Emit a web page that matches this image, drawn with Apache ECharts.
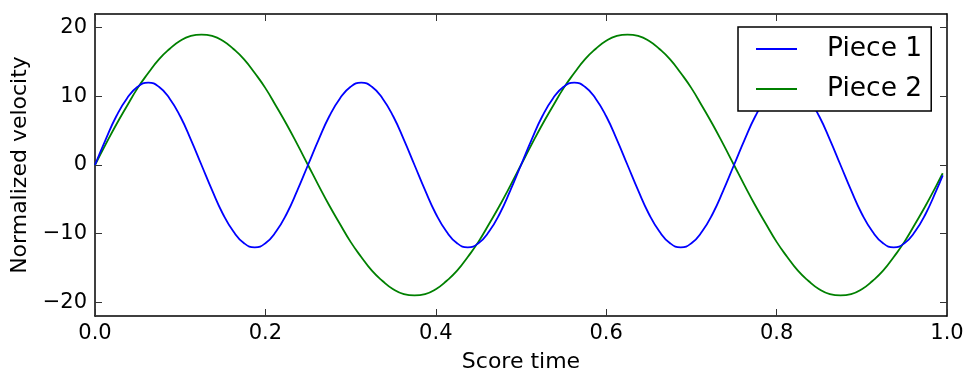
<!DOCTYPE html>
<html>
<head>
<meta charset="utf-8">
<script src="https://cdn.jsdelivr.net/npm/echarts@6/dist/echarts.min.js"></script>
<style>
html,body{margin:0;padding:0;background:#fff;}
#chart{width:969px;height:378px;}
</style>
</head>
<body>
<div id="chart"></div>
<script>
var times = [0, 0.0125, 0.025, 0.0375, 0.05, 0.0625, 0.075, 0.0875, 0.1, 0.1125,
  0.125, 0.1375, 0.15, 0.1625, 0.175, 0.1875, 0.2, 0.2125, 0.225, 0.2375,
  0.25, 0.2625, 0.275, 0.2875, 0.3, 0.3125, 0.325, 0.3375, 0.35, 0.3625,
  0.375, 0.3875, 0.4, 0.4125, 0.425, 0.4375, 0.45, 0.4625, 0.475, 0.4875,
  0.5, 0.5125, 0.525, 0.5375, 0.55, 0.5625, 0.575, 0.5875, 0.6, 0.6125,
  0.625, 0.6375, 0.65, 0.6625, 0.675, 0.6875, 0.7, 0.7125, 0.725, 0.7375,
  0.75, 0.7625, 0.775, 0.7875, 0.8, 0.8125, 0.825, 0.8375, 0.85, 0.8625,
  0.875, 0.8875, 0.9, 0.9125, 0.925, 0.9375, 0.95, 0.9625, 0.975, 0.9875,
  0.995];

var piece1 = [0, 3.7, 7.1, 9.7, 11.4, 12, 11.4, 9.7, 7.1, 3.7,
  0, -3.7, -7.1, -9.7, -11.4, -12, -11.4, -9.7, -7.1, -3.7,
  0, 3.7, 7.1, 9.7, 11.4, 12, 11.4, 9.7, 7.1, 3.7,
  0, -3.7, -7.1, -9.7, -11.4, -12, -11.4, -9.7, -7.1, -3.7,
  0, 3.7, 7.1, 9.7, 11.4, 12, 11.4, 9.7, 7.1, 3.7,
  0, -3.7, -7.1, -9.7, -11.4, -12, -11.4, -9.7, -7.1, -3.7,
  0, 3.7, 7.1, 9.7, 11.4, 12, 11.4, 9.7, 7.1, 3.7,
  0, -3.7, -7.1, -9.7, -11.4, -12, -11.4, -9.7, -7.1, -3.7,
  -1.5];

var piece2 = [0, 3.0, 5.9, 8.6, 11.2, 13.4, 15.4, 16.9, 18.1, 18.8,
  19, 18.8, 18.1, 16.9, 15.4, 13.4, 11.2, 8.6, 5.9, 3.0,
  0, -3.0, -5.9, -8.6, -11.2, -13.4, -15.4, -16.9, -18.1, -18.8,
  -19, -18.8, -18.1, -16.9, -15.4, -13.4, -11.2, -8.6, -5.9, -3.0,
  0, 3.0, 5.9, 8.6, 11.2, 13.4, 15.4, 16.9, 18.1, 18.8,
  19, 18.8, 18.1, 16.9, 15.4, 13.4, 11.2, 8.6, 5.9, 3.0,
  0, -3.0, -5.9, -8.6, -11.2, -13.4, -15.4, -16.9, -18.1, -18.8,
  -19, -18.8, -18.1, -16.9, -15.4, -13.4, -11.2, -8.6, -5.9, -3.0,
  -1.2];

var seriesNames = ['Piece 1', 'Piece 2'];
var xTicks = [0, 0.2, 0.4, 0.6, 0.8, 1.0];
var yTicks = [-20, -10, 0, 10, 20];

function pairs(xs, ys) { return xs.map(function (x, i) { return [x, ys[i]]; }); }

var FONT = 'DejaVu Sans';
var chart = echarts.init(document.getElementById('chart'), null, {renderer: 'canvas'});

function xAxisDef(pos, show) {
  return {
    type: 'value', position: pos, min: 0, max: 1,
    axisLine: {show: true, onZero: false, lineStyle: {color: '#000', width: 1.5}},
    axisTick: {show: true, inside: true, length: 7, customValues: xTicks, lineStyle: {color: '#333', width: 1}},
    axisLabel: {show: show, customValues: xTicks, margin: 7, fontFamily: FONT, fontSize: 21, color: '#000',
      formatter: function (v) { return v.toFixed(1); }},
    splitLine: {show: false},
    name: show ? 'Score time' : '', nameLocation: 'middle', nameGap: 35,
    nameTextStyle: {fontFamily: FONT, fontSize: 22, color: '#000'}
  };
}
function yAxisDef(pos, show) {
  return {
    type: 'value', position: pos, min: -22, max: 22,
    axisLine: {show: true, onZero: false, lineStyle: {color: '#000', width: 1.5}},
    axisTick: {show: true, inside: true, length: 7, customValues: yTicks, lineStyle: {color: '#333', width: 1}},
    axisLabel: {show: show, customValues: yTicks, margin: 8, fontFamily: FONT, fontSize: 21, color: '#000',
      formatter: function (v) { return String(v).replace('-', '\u2212'); }},
    splitLine: {show: false},
    name: show ? 'Normalized velocity' : '', nameLocation: 'middle', nameGap: 64,
    nameTextStyle: {fontFamily: FONT, fontSize: 22, color: '#000'}
  };
}

chart.setOption({
  animation: false,
  backgroundColor: '#fff',
  grid: {left: 95, right: 22, top: 14, bottom: 56, containLabel: false},
  xAxis: [xAxisDef('bottom', true), xAxisDef('top', false)],
  yAxis: [yAxisDef('left', true), yAxisDef('right', false)],
  legend: {
    orient: 'vertical', left: 738, top: 27,
    padding: [8, 9, 8, 18],
    icon: 'rect',
    itemWidth: 41, itemHeight: 2, itemGap: 12,
    borderColor: '#000', borderWidth: 1.5, borderRadius: 0,
    backgroundColor: '#fff',
    data: seriesNames,
    textStyle: {fontFamily: FONT, fontSize: 26.5, color: '#000', lineHeight: 28, padding: [0, 0, 0, 25]}
  },
  series: [
    {name: seriesNames[0], type: 'line', data: pairs(times, piece1), smooth: true, symbol: 'none',
      lineStyle: {color: '#0000ff', width: 1.8}, itemStyle: {color: '#0000ff'}, z: 3},
    {name: seriesNames[1], type: 'line', data: pairs(times, piece2), smooth: true, symbol: 'none',
      lineStyle: {color: '#008000', width: 1.8}, itemStyle: {color: '#008000'}, z: 2}
  ]
});
</script>
</body>
</html>
